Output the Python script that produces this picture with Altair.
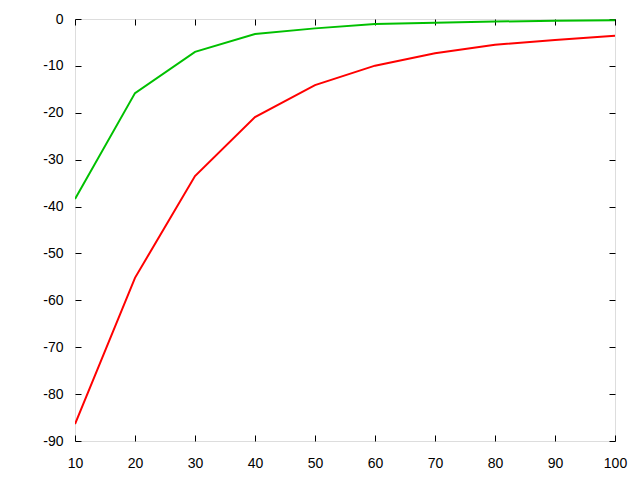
import altair as alt
import pandas as pd

x_vals = [10, 20, 30, 40, 50, 60, 70, 80, 90, 100]
red_vals = [-86.4, -55.2, -33.5, -20.9, -14.1, -9.95, -7.3, -5.5, -4.5, -3.55]
green_vals = [-38.4, -15.8, -7.0, -3.2, -2.0, -1.07, -0.8, -0.55, -0.35, -0.28]
x_ticks = [10, 20, 30, 40, 50, 60, 70, 80, 90, 100]
y_ticks = [0, -10, -20, -30, -40, -50, -60, -70, -80, -90]

df = pd.DataFrame({"x": x_vals, "red": red_vals, "green": green_vals})

FONT = "Liberation Sans"
FS = 14
xscale = alt.Scale(domain=[10, 100], nice=False, zero=False)
yscale = alt.Scale(domain=[-90, 0], nice=False, zero=False)

tick_neg = alt.ExprRef(expr="-6")
lbl = "toString(datum.value)"

red = alt.Chart(df).mark_line(color="#ff0000", strokeWidth=2, clip=True).encode(
    x=alt.X("x:Q", scale=xscale, axis=alt.Axis(
        values=x_ticks, title=None, grid=False, domain=False, orient="bottom",
        tickSize=tick_neg, tickColor="black", labelPadding=21, labelExpr=lbl,
        labelFont=FONT, labelFontSize=FS, labelColor="black", labelFlush=False)),
    y=alt.Y("red:Q", scale=yscale, axis=alt.Axis(
        values=y_ticks, title=None, grid=False, domain=False, orient="left",
        tickSize=tick_neg, tickColor="black", labelPadding=18, labelExpr=lbl,
        labelFont=FONT, labelFontSize=FS, labelColor="black", labelFlush=False)),
)

green = alt.Chart(df).mark_line(color="#00c000", strokeWidth=2, clip=True).encode(
    x=alt.X("x:Q", scale=xscale, axis=alt.Axis(
        values=x_ticks, title=None, grid=False, domain=False, orient="top",
        tickSize=tick_neg, tickColor="black", labels=False)),
    y=alt.Y("green:Q", scale=yscale, axis=alt.Axis(
        values=y_ticks, title=None, grid=False, domain=False, orient="right",
        tickSize=tick_neg, tickColor="black", labels=False)),
)

chart = alt.layer(red, green).resolve_axis(x="independent", y="independent").properties(
    width=540, height=422,
    autosize=alt.AutoSizeParams(type="none"),
    padding={"left": 67, "top": 11, "right": 17, "bottom": 31},
).configure_view(stroke="black", strokeWidth=1).configure(background="white")

chart.save("out.html", embed_options={"renderer": "svg", "actions": False})
